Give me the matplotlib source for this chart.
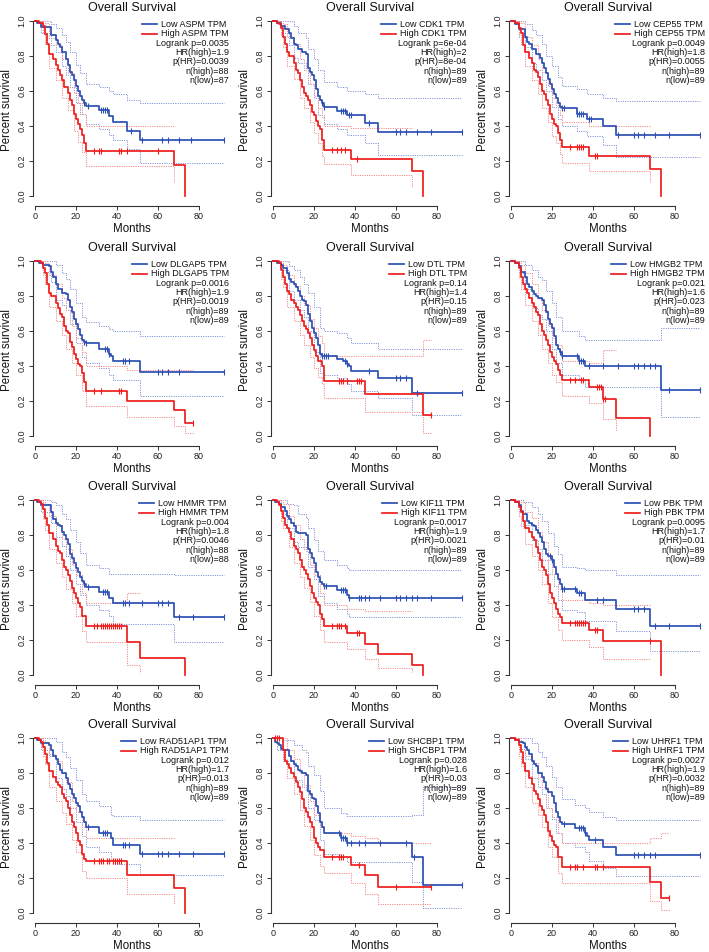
import matplotlib
matplotlib.use('Agg')
import matplotlib.pyplot as plt

plt.rcParams['font.family'] = ['Liberation Sans', 'DejaVu Sans']

genes = ['ASPM', 'CDK1', 'CEP55', 'DLGAP5', 'DTL', 'HMGB2',
         'HMMR', 'KIF11', 'PBK', 'RAD51AP1', 'SHCBP1', 'UHRF1']
logrank_p = ['0.0035', '6e-04', '0.0049', '0.0016', '0.14', '0.021',
             '0.004', '0.0017', '0.0095', '0.012', '0.028', '0.0027']
hr_high = ['1.9', '2', '1.8', '1.9', '1.4', '1.6', '1.8', '1.9', '1.7', '1.7', '1.6', '1.9']
p_hr = ['0.0039', '8e-04', '0.0055', '0.0019', '0.15', '0.023',
        '0.0046', '0.0021', '0.01', '0.013', '0.03', '0.0032']
n_high = [88, 89, 89, 89, 89, 89, 88, 89, 89, 89, 89, 89]
n_low = [87, 89, 89, 89, 89, 89, 88, 89, 89, 89, 89, 89]
x_ticks = [0, 20, 40, 60, 80]
y_ticks = [0.0, 0.2, 0.4, 0.6, 0.8, 1.0]

# (time, survival) change points; last point is the end of the curve
ASPM_low = [(0,1.0),(1,0.989),(3,0.966),(8,0.92),(10,0.89),(11,0.87),(12,0.85),(13,0.82),(15,0.78),(16,0.75),(17,0.71),(18,0.69),(19,0.66),(20,0.63),(21,0.60),(22,0.57),(23,0.55),(24,0.53),(25,0.515),(31,0.49),(36,0.455),(38,0.42),(45,0.37),(51,0.32),(92,0.32)]
ASPM_low_cens = [24,26,32,33,34,35,47,52,62,65,70,76,92]
ASPM_low_ci = [(0,1,1),(3,0.93,1.0),(8,0.86,0.98),(10,0.82,0.96),(13,0.74,0.92),(15,0.69,0.88),(17,0.62,0.82),(20,0.53,0.75),(22,0.47,0.70),(25,0.41,0.64),(31,0.38,0.62),(36,0.35,0.60),(38,0.32,0.585),(45,0.27,0.55),(51,0.19,0.533),(92,0.19,0.533)]
ASPM_high = [(0,1.0),(2,0.989),(4,0.97),(5,0.924),(6,0.87),(7,0.81),(9,0.78),(10,0.75),(11,0.72),(12,0.69),(13,0.66),(14,0.62),(16,0.59),(17,0.55),(18,0.52),(19,0.47),(20,0.44),(21,0.41),(22,0.38),(23,0.35),(24,0.30),(25,0.257),(68,0.175),(73,0.0)]
ASPM_high_cens = [29,31,32,41,42,45,60]
ASPM_high_ci = [(0,1,1),(4,0.93,1.0),(5,0.87,0.99),(7,0.73,0.90),(10,0.66,0.86),(13,0.56,0.78),(16,0.49,0.70),(19,0.37,0.59),(21,0.31,0.53),(23,0.25,0.47),(25,0.17,0.40),(68,0.08,0.40)]

CDK1_low = [(0,1.0),(2,0.99),(4,0.97),(6,0.955),(8,0.93),(9,0.90),(10,0.87),(11,0.86),(12,0.84),(14,0.82),(16,0.81),(17,0.73),(18,0.71),(19,0.69),(20,0.66),(21,0.61),(22,0.57),(23,0.55),(24,0.53),(25,0.51),(31,0.485),(36,0.46),(45,0.415),(51,0.365),(92,0.365)]
CDK1_low_cens = [24,25,33,34,35,37,38,47,60,62,65,70,77,92]
CDK1_low_ci = [(0,1,1),(4,0.93,1.0),(8,0.86,1.0),(10,0.79,0.97),(12,0.76,0.93),(16,0.73,0.90),(17,0.64,0.84),(20,0.56,0.78),(22,0.46,0.72),(25,0.41,0.65),(31,0.38,0.62),(36,0.35,0.60),(45,0.30,0.58),(51,0.235,0.558),(92,0.235,0.558)]
CDK1_high = [(0,1.0),(2,0.99),(3,0.98),(4,0.96),(5,0.91),(6,0.87),(7,0.82),(8,0.80),(10,0.76),(11,0.72),(12,0.70),(13,0.66),(14,0.62),(15,0.59),(16,0.57),(17,0.55),(18,0.52),(19,0.48),(20,0.46),(21,0.43),(22,0.40),(23,0.385),(24,0.32),(25,0.265),(38,0.21),(68,0.14),(73,0.0)]
CDK1_high_cens = [29,31,33,35,41]
CDK1_high_ci = [(0,1,1),(4,0.92,1.0),(5,0.85,0.98),(7,0.74,0.91),(10,0.67,0.87),(13,0.56,0.78),(15,0.50,0.72),(18,0.42,0.64),(20,0.36,0.57),(22,0.30,0.50),(24,0.23,0.45),(25,0.18,0.40),(38,0.12,0.39),(68,0.05,0.39)]

CEP55_low = [(0,1.0),(2,0.98),(4,0.955),(7,0.91),(8,0.88),(9,0.87),(10,0.84),(12,0.81),(14,0.79),(15,0.76),(16,0.73),(17,0.70),(18,0.67),(19,0.64),(20,0.61),(21,0.58),(22,0.56),(23,0.53),(24,0.51),(25,0.50),(32,0.47),(37,0.44),(45,0.40),(51,0.35),(92,0.35)]
CEP55_low_cens = [25,26,32,33,34,35,38,39,52,60,62,65,70,77,92]
CEP55_low_ci = [(0,1,1),(4,0.91,1.0),(7,0.85,0.98),(10,0.76,0.95),(12,0.72,0.92),(15,0.66,0.87),(17,0.60,0.80),(20,0.51,0.74),(23,0.44,0.68),(25,0.40,0.63),(32,0.37,0.61),(37,0.34,0.58),(45,0.29,0.56),(51,0.22,0.54),(92,0.22,0.54)]
CEP55_high = [(0,1.0),(2,0.99),(4,0.96),(5,0.93),(6,0.86),(7,0.82),(9,0.79),(10,0.76),(11,0.72),(12,0.71),(13,0.68),(14,0.64),(15,0.60),(16,0.58),(17,0.55),(18,0.52),(19,0.47),(20,0.44),(21,0.41),(22,0.40),(23,0.36),(24,0.32),(25,0.28),(38,0.23),(68,0.155),(73,0.0)]
CEP55_high_cens = [29,32,33,34,35,41,42]
CEP55_high_ci = [(0,1,1),(4,0.92,1.0),(5,0.87,0.99),(7,0.74,0.91),(10,0.66,0.86),(13,0.58,0.78),(15,0.50,0.71),(18,0.42,0.63),(20,0.34,0.56),(22,0.30,0.52),(24,0.24,0.46),(25,0.19,0.42),(38,0.14,0.40),(68,0.08,0.40)]

DLGAP5_low = [(0,1.0),(2,0.99),(4,0.98),(7,0.97),(8,0.94),(9,0.91),(10,0.87),(11,0.84),(13,0.82),(15,0.81),(16,0.78),(17,0.74),(18,0.71),(19,0.67),(20,0.64),(21,0.61),(22,0.58),(23,0.55),(24,0.54),(25,0.53),(31,0.50),(36,0.47),(37,0.46),(38,0.43),(51,0.365),(92,0.365)]
DLGAP5_low_cens = [24,25,34,35,36,43,44,46,60,62,65,70,92]
DLGAP5_low_ci = [(0,1,1),(4,0.94,1.0),(8,0.88,1.0),(10,0.78,0.98),(13,0.75,0.93),(15,0.72,0.90),(17,0.64,0.84),(20,0.53,0.76),(23,0.45,0.68),(25,0.42,0.65),(31,0.39,0.63),(36,0.35,0.61),(38,0.32,0.60),(51,0.23,0.57),(92,0.23,0.57)]
DLGAP5_high = [(0,1.0),(3,0.99),(4,0.96),(5,0.93),(6,0.87),(7,0.82),(8,0.80),(10,0.76),(11,0.73),(12,0.70),(13,0.68),(14,0.63),(15,0.60),(16,0.59),(17,0.54),(18,0.51),(19,0.47),(20,0.44),(21,0.41),(22,0.40),(23,0.36),(24,0.31),(25,0.255),(45,0.20),(68,0.15),(73,0.075),(77,0.075)]
DLGAP5_high_cens = [29,32,41,42,77]
DLGAP5_high_ci = [(0,1,1),(4,0.92,1.0),(5,0.87,0.99),(7,0.74,0.92),(10,0.66,0.87),(13,0.58,0.79),(15,0.50,0.72),(18,0.42,0.63),(20,0.35,0.56),(23,0.26,0.48),(25,0.17,0.40),(45,0.11,0.38),(68,0.06,0.38),(73,0.02,0.38),(77,0.02,0.38)]

DTL_low = [(0,1.0),(2,0.99),(4,0.98),(5,0.96),(7,0.93),(8,0.90),(9,0.88),(10,0.87),(11,0.85),(12,0.83),(13,0.80),(14,0.78),(15,0.77),(16,0.75),(17,0.70),(18,0.66),(19,0.62),(20,0.59),(21,0.56),(22,0.52),(23,0.47),(24,0.46),(31,0.44),(34,0.43),(36,0.41),(37,0.40),(38,0.37),(51,0.33),(68,0.245),(92,0.245)]
DTL_low_cens = [24,25,26,27,35,36,47,60,62,65,70,92]
DTL_low_ci = [(0,1,1),(4,0.95,1.0),(8,0.83,0.97),(10,0.78,0.95),(13,0.72,0.91),(15,0.68,0.87),(17,0.60,0.82),(20,0.48,0.74),(23,0.36,0.62),(25,0.35,0.60),(31,0.33,0.59),(36,0.30,0.56),(38,0.26,0.53),(51,0.22,0.50),(68,0.12,0.50),(92,0.12,0.50)]
DTL_high = [(0,1.0),(3,0.99),(4,0.95),(5,0.91),(6,0.87),(7,0.83),(8,0.81),(9,0.78),(10,0.76),(11,0.74),(12,0.72),(13,0.69),(14,0.66),(15,0.63),(16,0.61),(17,0.59),(18,0.56),(19,0.52),(20,0.49),(21,0.46),(22,0.43),(24,0.40),(25,0.315),(45,0.24),(73,0.12),(77,0.12)]
DTL_high_cens = [32,33,34,36,41,42,43,77]
DTL_high_ci = [(0,1,1),(4,0.90,1.0),(5,0.85,0.98),(7,0.74,0.92),(10,0.66,0.86),(13,0.58,0.80),(15,0.52,0.75),(18,0.45,0.67),(20,0.39,0.62),(22,0.34,0.57),(24,0.30,0.53),(25,0.22,0.46),(45,0.14,0.46),(73,0.02,0.55),(77,0.02,0.55)]

HMGB2_low = [(0,1.0),(2,0.99),(4,0.97),(5,0.94),(7,0.91),(8,0.87),(9,0.85),(10,0.83),(11,0.81),(12,0.80),(13,0.79),(15,0.78),(16,0.75),(17,0.71),(18,0.67),(19,0.64),(20,0.62),(21,0.57),(22,0.52),(23,0.50),(24,0.48),(25,0.455),(33,0.43),(36,0.40),(73,0.265),(92,0.265)]
HMGB2_low_cens = [24,25,32,33,34,35,38,45,52,60,62,65,68,70,77,92]
HMGB2_low_ci = [(0,1,1),(4,0.93,1.0),(7,0.84,0.98),(10,0.73,0.95),(13,0.69,0.91),(15,0.67,0.89),(17,0.60,0.83),(20,0.50,0.76),(22,0.42,0.68),(25,0.35,0.60),(33,0.32,0.57),(36,0.28,0.55),(73,0.11,0.62),(92,0.11,0.62)]
HMGB2_high = [(0,1.0),(2,0.99),(4,0.96),(5,0.91),(6,0.87),(7,0.84),(8,0.82),(9,0.79),(10,0.76),(11,0.74),(12,0.71),(13,0.69),(14,0.64),(15,0.60),(16,0.58),(17,0.55),(18,0.52),(19,0.48),(20,0.45),(21,0.43),(22,0.41),(23,0.38),(24,0.35),(25,0.32),(38,0.28),(45,0.21),(51,0.105),(68,0.0)]
HMGB2_high_cens = [29,31,34,35,42,43,44,45,46]
HMGB2_high_ci = [(0,1,1),(4,0.91,1.0),(5,0.84,0.98),(7,0.75,0.93),(10,0.66,0.87),(13,0.58,0.79),(15,0.50,0.72),(18,0.42,0.63),(20,0.35,0.56),(22,0.31,0.52),(25,0.23,0.43),(38,0.19,0.42),(45,0.10,0.49),(51,0.03,0.49)]

HMMR_low = [(0,1.0),(1,0.99),(3,0.97),(8,0.93),(9,0.89),(10,0.87),(11,0.86),(12,0.85),(13,0.82),(14,0.80),(15,0.78),(16,0.75),(17,0.69),(18,0.67),(19,0.64),(20,0.61),(21,0.59),(22,0.56),(23,0.54),(24,0.52),(25,0.505),(31,0.475),(36,0.44),(38,0.41),(68,0.33),(92,0.33)]
HMMR_low_cens = [24,26,33,34,35,43,44,46,52,60,62,65,70,77,92]
HMMR_low_ci = [(0,1,1),(3,0.93,1.0),(8,0.87,0.99),(10,0.79,0.97),(13,0.74,0.92),(15,0.68,0.89),(17,0.60,0.83),(20,0.52,0.76),(22,0.46,0.70),(25,0.40,0.63),(31,0.37,0.61),(36,0.34,0.58),(38,0.29,0.575),(68,0.19,0.57),(92,0.19,0.57)]
HMMR_high = [(0,1.0),(2,0.99),(3,0.98),(4,0.95),(5,0.90),(6,0.86),(7,0.81),(9,0.78),(10,0.74),(11,0.71),(12,0.70),(13,0.66),(14,0.62),(15,0.60),(16,0.57),(17,0.54),(18,0.50),(19,0.47),(20,0.44),(21,0.41),(22,0.39),(23,0.34),(25,0.28),(45,0.19),(51,0.095),(73,0.0)]
HMMR_high_cens = [29,30,32,33,34,35,36,37,38,39,40,41,42]
HMMR_high_ci = [(0,1,1),(4,0.89,1.0),(5,0.83,0.98),(7,0.72,0.91),(10,0.64,0.86),(13,0.56,0.78),(15,0.49,0.72),(18,0.41,0.63),(20,0.34,0.57),(23,0.25,0.47),(25,0.19,0.41),(45,0.06,0.47),(51,0.01,0.47)]

KIF11_low = [(0,1.0),(1,0.99),(3,0.98),(4,0.96),(6,0.94),(7,0.91),(8,0.89),(9,0.87),(10,0.85),(11,0.82),(12,0.81),(16,0.80),(17,0.72),(18,0.70),(19,0.67),(20,0.64),(21,0.59),(22,0.56),(23,0.53),(24,0.52),(25,0.51),(31,0.485),(36,0.46),(37,0.44),(92,0.44)]
KIF11_low_cens = [25,26,33,34,35,37,42,43,45,47,52,60,62,65,68,70,77,92]
KIF11_low_ci = [(0,1,1),(4,0.92,1.0),(7,0.84,0.98),(10,0.76,0.97),(12,0.73,0.92),(16,0.71,0.90),(17,0.62,0.84),(20,0.55,0.77),(22,0.45,0.71),(25,0.41,0.66),(31,0.38,0.63),(36,0.35,0.61),(37,0.33,0.60),(92,0.33,0.60)]
KIF11_high = [(0,1.0),(2,0.99),(3,0.97),(4,0.94),(5,0.90),(6,0.86),(7,0.84),(8,0.82),(9,0.78),(10,0.74),(11,0.72),(12,0.70),(13,0.66),(14,0.62),(15,0.60),(16,0.58),(17,0.55),(18,0.51),(19,0.47),(20,0.44),(21,0.42),(22,0.40),(23,0.35),(24,0.32),(25,0.28),(36,0.24),(45,0.18),(51,0.12),(68,0.06),(73,0.0)]
KIF11_high_cens = [29,31,32,33,35,41,42]
KIF11_high_ci = [(0,1,1),(4,0.88,1.0),(5,0.84,0.98),(8,0.73,0.91),(10,0.64,0.86),(13,0.56,0.78),(15,0.50,0.72),(18,0.42,0.63),(20,0.34,0.57),(23,0.26,0.47),(25,0.19,0.40),(36,0.15,0.38),(45,0.09,0.365),(51,0.04,0.365),(68,0.02,0.365)]

PBK_low = [(0,1.0),(2,0.99),(4,0.97),(5,0.94),(6,0.92),(8,0.88),(9,0.87),(10,0.86),(11,0.85),(12,0.83),(13,0.81),(14,0.79),(15,0.76),(16,0.72),(17,0.69),(18,0.68),(20,0.66),(21,0.62),(22,0.58),(23,0.55),(24,0.52),(25,0.49),(32,0.47),(36,0.43),(51,0.38),(68,0.28),(92,0.28)]
PBK_low_cens = [19,20,25,26,31,33,34,42,45,60,62,65,70,77,92]
PBK_low_ci = [(0,1,1),(4,0.93,1.0),(6,0.86,0.99),(10,0.77,0.96),(13,0.72,0.92),(15,0.66,0.88),(18,0.58,0.81),(21,0.51,0.74),(23,0.43,0.69),(25,0.37,0.62),(32,0.36,0.61),(36,0.31,0.60),(51,0.25,0.57),(68,0.14,0.57),(92,0.14,0.57)]
PBK_high = [(0,1.0),(2,0.99),(4,0.96),(5,0.93),(6,0.88),(7,0.84),(9,0.82),(10,0.79),(11,0.77),(12,0.73),(13,0.70),(14,0.66),(15,0.62),(16,0.60),(17,0.57),(18,0.52),(19,0.47),(20,0.44),(21,0.41),(22,0.38),(23,0.35),(24,0.33),(25,0.295),(38,0.255),(45,0.195),(73,0.0)]
PBK_high_cens = [29,31,32,33,34,35,36,41,42,68]
PBK_high_ci = [(0,1,1),(4,0.91,1.0),(5,0.85,0.99),(7,0.75,0.93),(10,0.68,0.90),(13,0.60,0.82),(15,0.52,0.76),(18,0.41,0.66),(20,0.33,0.58),(23,0.26,0.49),(25,0.20,0.43),(38,0.16,0.41),(45,0.09,0.40),(68,0.09,0.40)]

RAD51AP1_low = [(0,1.0),(1,0.99),(3,0.97),(7,0.96),(8,0.93),(9,0.90),(10,0.88),(11,0.85),(12,0.82),(13,0.80),(15,0.77),(16,0.74),(17,0.71),(18,0.68),(19,0.66),(20,0.63),(21,0.61),(22,0.58),(23,0.55),(24,0.52),(25,0.49),(31,0.46),(37,0.43),(38,0.39),(51,0.34),(92,0.34)]
RAD51AP1_low_cens = [26,33,34,35,43,44,46,52,60,62,65,70,77,92]
RAD51AP1_low_ci = [(0,1,1),(3,0.93,1.0),(7,0.90,1.0),(10,0.77,0.98),(13,0.71,0.92),(15,0.67,0.89),(17,0.60,0.83),(20,0.52,0.76),(23,0.44,0.68),(25,0.38,0.64),(31,0.35,0.61),(37,0.31,0.56),(38,0.28,0.555),(51,0.215,0.53),(92,0.215,0.53)]
RAD51AP1_high = [(0,1.0),(2,0.99),(3,0.98),(4,0.95),(5,0.91),(6,0.86),(7,0.81),(9,0.78),(10,0.75),(11,0.73),(12,0.72),(13,0.68),(14,0.66),(15,0.64),(16,0.60),(17,0.56),(18,0.52),(19,0.49),(20,0.46),(21,0.41),(22,0.39),(23,0.34),(24,0.31),(25,0.295),(45,0.22),(68,0.145),(73,0.0)]
RAD51AP1_high_cens = [29,31,32,33,35,36,38,39,40,41,42]
RAD51AP1_high_ci = [(0,1,1),(4,0.90,1.0),(5,0.85,0.98),(7,0.72,0.91),(10,0.64,0.87),(13,0.57,0.80),(15,0.51,0.75),(18,0.42,0.64),(20,0.35,0.58),(23,0.24,0.49),(25,0.20,0.43),(45,0.11,0.43),(68,0.05,0.43)]

SHCBP1_low = [(0,1.0),(1,0.98),(2,0.97),(3,0.96),(4,0.94),(5,0.93),(8,0.90),(9,0.87),(10,0.85),(11,0.84),(12,0.82),(13,0.81),(14,0.80),(16,0.79),(17,0.70),(18,0.68),(19,0.66),(20,0.65),(21,0.61),(22,0.57),(23,0.52),(24,0.49),(25,0.455),(33,0.43),(36,0.40),(68,0.32),(73,0.16),(92,0.16)]
SHCBP1_low_cens = [32,33,34,35,36,38,42,45,52,65,69,92]
SHCBP1_low_ci = [(0,1,1),(2,0.93,1.0),(5,0.87,0.99),(10,0.76,0.96),(14,0.72,0.93),(16,0.70,0.92),(17,0.60,0.84),(20,0.53,0.79),(23,0.42,0.70),(25,0.34,0.60),(33,0.32,0.57),(36,0.29,0.555),(68,0.18,0.56),(73,0.03,0.72),(92,0.03,0.72)]
SHCBP1_high = [(0,1.0),(5,0.93),(6,0.87),(7,0.85),(8,0.83),(9,0.80),(10,0.78),(11,0.75),(12,0.72),(13,0.69),(14,0.65),(15,0.60),(16,0.58),(17,0.55),(18,0.52),(19,0.49),(20,0.43),(21,0.40),(22,0.38),(23,0.36),(25,0.32),(38,0.275),(45,0.215),(51,0.15),(77,0.15)]
SHCBP1_high_cens = [1,2,3,29,32,33,34,42,60,77]
SHCBP1_high_ci = [(0,1,1),(5,0.88,1.0),(7,0.77,0.93),(10,0.68,0.88),(13,0.59,0.80),(15,0.50,0.73),(18,0.42,0.64),(20,0.33,0.56),(23,0.27,0.49),(25,0.23,0.46),(38,0.17,0.44),(45,0.11,0.43),(51,0.05,0.40),(77,0.05,0.40)]

UHRF1_low = [(0,1.0),(2,0.99),(4,0.98),(6,0.97),(7,0.95),(8,0.93),(9,0.91),(10,0.87),(11,0.85),(12,0.84),(13,0.80),(15,0.78),(16,0.75),(17,0.71),(18,0.69),(20,0.67),(21,0.63),(22,0.58),(23,0.55),(24,0.52),(25,0.51),(31,0.485),(36,0.46),(37,0.44),(38,0.42),(45,0.375),(51,0.33),(92,0.33)]
UHRF1_low_cens = [26,33,34,35,36,41,60,62,65,68,70,92]
UHRF1_low_ci = [(0,1,1),(4,0.94,1.0),(7,0.88,1.0),(10,0.77,0.97),(13,0.72,0.92),(15,0.68,0.89),(17,0.60,0.84),(20,0.54,0.78),(22,0.46,0.72),(25,0.40,0.65),(31,0.38,0.62),(36,0.35,0.60),(38,0.30,0.58),(45,0.26,0.55),(51,0.21,0.53),(92,0.21,0.53)]
UHRF1_high = [(0,1.0),(2,0.99),(4,0.96),(5,0.92),(6,0.86),(7,0.81),(9,0.77),(10,0.74),(11,0.70),(12,0.68),(13,0.65),(14,0.61),(15,0.59),(16,0.56),(17,0.52),(18,0.47),(19,0.44),(20,0.41),(21,0.39),(22,0.38),(23,0.32),(25,0.265),(68,0.175),(73,0.088),(77,0.088)]
UHRF1_high_cens = [29,31,32,35,41,42,45,77]
UHRF1_high_ci = [(0,1,1),(4,0.90,1.0),(5,0.84,0.98),(7,0.72,0.90),(10,0.63,0.86),(13,0.56,0.78),(15,0.49,0.72),(18,0.38,0.60),(20,0.32,0.55),(23,0.23,0.46),(25,0.17,0.40),(68,0.07,0.43),(73,0.02,0.46),(77,0.02,0.46)]

panels = {
    'ASPM': (ASPM_low, ASPM_low_cens, ASPM_low_ci, ASPM_high, ASPM_high_cens, ASPM_high_ci),
    'CDK1': (CDK1_low, CDK1_low_cens, CDK1_low_ci, CDK1_high, CDK1_high_cens, CDK1_high_ci),
    'CEP55': (CEP55_low, CEP55_low_cens, CEP55_low_ci, CEP55_high, CEP55_high_cens, CEP55_high_ci),
    'DLGAP5': (DLGAP5_low, DLGAP5_low_cens, DLGAP5_low_ci, DLGAP5_high, DLGAP5_high_cens, DLGAP5_high_ci),
    'DTL': (DTL_low, DTL_low_cens, DTL_low_ci, DTL_high, DTL_high_cens, DTL_high_ci),
    'HMGB2': (HMGB2_low, HMGB2_low_cens, HMGB2_low_ci, HMGB2_high, HMGB2_high_cens, HMGB2_high_ci),
    'HMMR': (HMMR_low, HMMR_low_cens, HMMR_low_ci, HMMR_high, HMMR_high_cens, HMMR_high_ci),
    'KIF11': (KIF11_low, KIF11_low_cens, KIF11_low_ci, KIF11_high, KIF11_high_cens, KIF11_high_ci),
    'PBK': (PBK_low, PBK_low_cens, PBK_low_ci, PBK_high, PBK_high_cens, PBK_high_ci),
    'RAD51AP1': (RAD51AP1_low, RAD51AP1_low_cens, RAD51AP1_low_ci, RAD51AP1_high, RAD51AP1_high_cens, RAD51AP1_high_ci),
    'SHCBP1': (SHCBP1_low, SHCBP1_low_cens, SHCBP1_low_ci, SHCBP1_high, SHCBP1_high_cens, SHCBP1_high_ci),
    'UHRF1': (UHRF1_low, UHRF1_low_cens, UHRF1_low_ci, UHRF1_high, UHRF1_high_cens, UHRF1_high_ci),
}

BLUE = '#2B4FB3'
RED = '#F01C1C'
BLUE_CI = '#8597DA'
RED_CI = '#F58A8A'

W, H = 709, 952
fig = plt.figure(figsize=(W / 100, H / 100), dpi=100)

col_x0 = [35, 273, 511]     # pixel of t = 0
row_yT = [21, 261, 500, 738]  # pixel of S = 1.0
SX, SY = 2.05, 175.0
XMIN, XMAX = -1.2, 96.0
YMIN, YMAX = -0.057, 1.04


def surv_at(curve, t):
    s = curve[0][1]
    for tt, ss in curve:
        if tt <= t:
            s = ss
        else:
            break
    return s


def draw_curve(ax, curve, cens, ci, color, cicolor):
    ct = [p[0] for p in ci]
    ax.step(ct, [p[1] for p in ci], where='post', color=cicolor, lw=0.7,
            ls=(0, (1.2, 1.2)), zorder=2)
    ax.step(ct, [p[2] for p in ci], where='post', color=cicolor, lw=0.7,
            ls=(0, (1.2, 1.2)), zorder=2)
    ax.step([p[0] for p in curve], [p[1] for p in curve], where='post',
            color=color, lw=1.25, zorder=3)
    ax.plot(cens, [surv_at(curve, c) for c in cens], ls='none', marker='|',
            ms=4.5, mew=0.8, color=color, zorder=4)


legend_items = []
for i, g in enumerate(genes):
    r, c = divmod(i, 3)
    left_px = col_x0[c] + XMIN * SX
    width_px = (XMAX - XMIN) * SX
    top_px = row_yT[r] - (YMAX - 1.0) * SY
    height_px = (YMAX - YMIN) * SY
    ax = fig.add_axes([left_px / W, 1 - (top_px + height_px) / H,
                       width_px / W, height_px / H])
    ax.set_xlim(XMIN, XMAX)
    ax.set_ylim(YMIN, YMAX)
    lo, lo_c, lo_ci, hi, hi_c, hi_ci = panels[g]
    draw_curve(ax, lo, lo_c, lo_ci, BLUE, BLUE_CI)
    draw_curve(ax, hi, hi_c, hi_ci, RED, RED_CI)

    for sp in ['top', 'right']:
        ax.spines[sp].set_visible(False)
    ax.spines['left'].set_bounds(0, 1)
    ax.spines['bottom'].set_bounds(0, 80)
    for sp in ['left', 'bottom']:
        ax.spines[sp].set_color('#333333')
        ax.spines[sp].set_linewidth(0.8)
    ax.set_xticks(x_ticks)
    ax.set_yticks(y_ticks)
    ax.set_xticklabels([str(v) for v in x_ticks])
    ax.set_yticklabels(['%.1f' % v for v in y_ticks], rotation=90, va='center')
    ax.tick_params(length=3, width=0.7, color='#333333', labelsize=6.5,
                   pad=1.5, labelcolor='#222222')
    ax.set_title('Overall Survival', fontsize=9, pad=1.5, color='#111111')
    ax.set_xlabel('Months', fontsize=8.3, labelpad=1.5, color='#111111')
    ax.set_ylabel('Percent survival', fontsize=8.3, labelpad=3, color='#111111')

    # legend
    xr = 94.6
    y0 = 0.981
    dy = 0.0537
    fs = 6.5
    t_hi = ax.text(xr, y0 - dy, 'High %s TPM' % g, ha='right', va='center',
                   fontsize=fs, color='#111111')
    stats = ['Logrank p=%s' % logrank_p[i], 'HR(high)=%s' % hr_high[i],
             'p(HR)=%s' % p_hr[i], 'n(high)=%d' % n_high[i], 'n(low)=%d' % n_low[i]]
    for k, s in enumerate(stats):
        ax.text(xr, y0 - (k + 2) * dy, s, ha='right', va='center',
                fontsize=fs, color='#111111')
    legend_items.append((ax, t_hi, g, xr, y0, dy, fs))

fig.canvas.draw()
renderer = fig.canvas.get_renderer()
for ax, t_hi, g, xr, y0, dy, fs in legend_items:
    bb = t_hi.get_window_extent(renderer)
    xl = ax.transData.inverted().transform((bb.x0, bb.y0))[0]
    ax.text(xl, y0, 'Low %s TPM' % g, ha='left', va='center', fontsize=fs,
            color='#111111')
    ax.plot([xl - 9.3, xl - 1.9], [y0, y0], color=BLUE, lw=1.25)
    ax.plot([xl - 9.3, xl - 1.9], [y0 - dy, y0 - dy], color=RED, lw=1.25)

fig.savefig('out.png', dpi=100)
